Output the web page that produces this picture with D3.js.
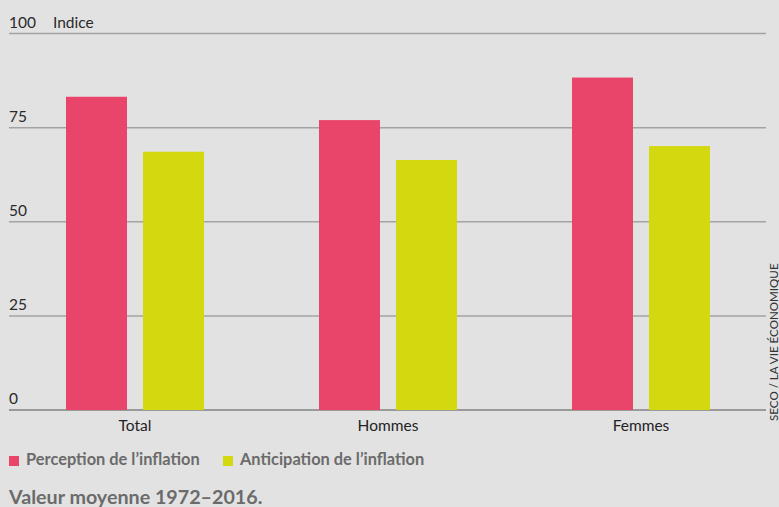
<!DOCTYPE html>
<html><head><meta charset="utf-8">
<script src="https://cdn.jsdelivr.net/npm/d3@7"></script>
<style>
html,body{margin:0;padding:0;background:#e2e2e2;}
svg{display:block;}
text{font-family:Lato,"Open Sans",sans-serif;}
</style></head>
<body>
<svg id="c" width="779" height="507"></svg>
<script>
const categories = ["Total", "Hommes", "Femmes"];
const seriesNames = ["Perception de l\u2019inflation", "Anticipation de l\u2019inflation"];
const perception = [83.2, 77.0, 88.3];
const anticipation = [68.6, 66.4, 70.1];
const yTicks = [0, 25, 50, 75, 100];
const colors = ["#e9446a", "#d4d80f"];

const svg = d3.select("#c");
svg.append("rect").attr("width",779).attr("height",507).attr("fill","#e2e2e2");

const y = d3.scaleLinear().domain([0,100]).range([410,33.5]);
const x0 = d3.scaleBand().domain(categories).range([8.5,767.5]).paddingInner(0.4545).paddingOuter(0.22725);
const x1 = d3.scaleBand().domain(seriesNames).range([0,x0.bandwidth()]).paddingInner(0.208);

// gridlines
svg.append("g").selectAll("line").data(yTicks).join("line")
  .attr("x1",9).attr("x2",766)
  .attr("y1",d=>y(d)).attr("y2",d=>y(d))
  .attr("stroke",d=>d===0?"#9a9a9a":"#a3a3a3").attr("stroke-width",d=>d===0?2:1.5);

// tick labels
svg.append("g").selectAll("text").data(yTicks).join("text")
  .attr("x",9).attr("y",d=>y(d)-6)
  .attr("font-size",15.5).attr("fill","#2a2a2a")
  .text(d=>d);
svg.append("text").attr("x",53).attr("y",y(100)-6).attr("font-size",15.5).attr("fill","#2a2a2a").text("Indice");

// bars
const data = categories.map((c,i)=>({cat:c, vals:[perception[i], anticipation[i]]}));
const g = svg.append("g").selectAll("g").data(data).join("g")
  .attr("transform",d=>`translate(${x0(d.cat)},0)`);
g.selectAll("rect").data(d=>d.vals.map((v,j)=>({s:seriesNames[j],v,j}))).join("rect")
  .attr("x",d=>x1(d.s)).attr("width",x1.bandwidth())
  .attr("y",d=>y(d.v)).attr("height",d=>y(0)-y(d.v))
  .attr("fill",d=>colors[d.j]);

// category labels
svg.append("g").selectAll("text").data(categories).join("text")
  .attr("x",d=>x0(d)+x0.bandwidth()/2).attr("y",431)
  .attr("text-anchor","middle").attr("font-size",15.5).attr("fill","#222")
  .text(d=>d);

// legend
const legX = [9, 223];
seriesNames.forEach((s,i)=>{
  svg.append("rect").attr("x",legX[i]).attr("y",456).attr("width",10).attr("height",10).attr("fill",colors[i]);
  svg.append("text").attr("x",legX[i]+17).attr("y",465).attr("font-size",16.4).attr("font-weight","bold")
    .attr("fill","#6b6b6b").text(s);
});

// title
svg.append("text").attr("x",9).attr("y",504).attr("font-size",19.7).attr("font-weight","bold")
  .attr("fill","#6b6b6b").text("Valeur moyenne 1972\u20132016.");

// source
svg.append("text").attr("transform","translate(778,421) rotate(-90)")
  .attr("font-size",11.6).attr("fill","#333").text("SECO / LA VIE ÉCONOMIQUE");
</script>
</body></html>
